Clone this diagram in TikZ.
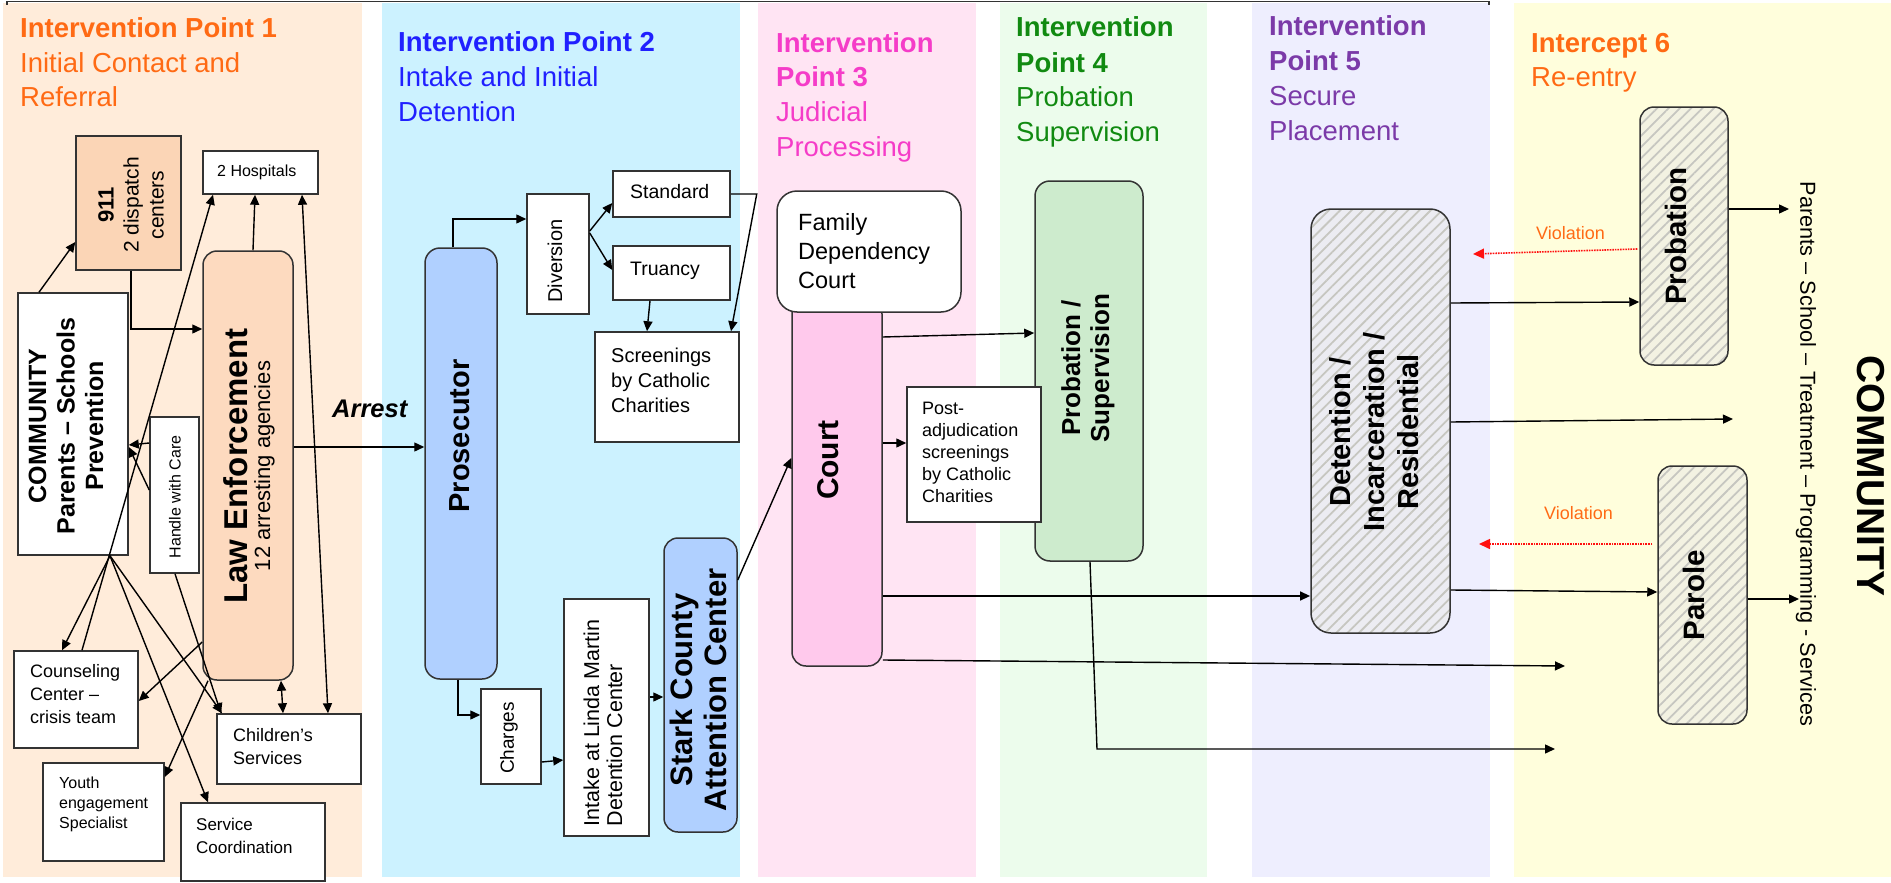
\documentclass[tikz,border=0pt]{standalone}
\usepackage{fontspec}
\usepackage{graphicx}
\setmainfont{Liberation Sans}
\usetikzlibrary{arrows.meta,fit,patterns.meta}
\definecolor{bgA}{HTML}{FFECDA}
\definecolor{bgB}{HTML}{CCF2FF}
\definecolor{bgC}{HTML}{FFE4F3}
\definecolor{bgD}{HTML}{ECFCEC}
\definecolor{bgE}{HTML}{EEEEFE}
\definecolor{bgF}{HTML}{FFFEDC}
\definecolor{hOr}{HTML}{FF6A14}
\definecolor{hBl}{HTML}{2020FF}
\definecolor{hPk}{HTML}{F53CC8}
\definecolor{hGr}{HTML}{118A11}
\definecolor{hPu}{HTML}{7B3AA8}
\definecolor{bdr}{HTML}{333333}
\definecolor{fPeach}{HTML}{FBD5B6}
\definecolor{fLaw}{HTML}{FDDABF}
\definecolor{fBlue}{HTML}{B0D0FF}
\definecolor{fPink}{HTML}{FFC9EC}
\definecolor{fGreen}{HTML}{CDEBCD}
\definecolor{hatchE}{HTML}{ECECF2}
\definecolor{hatchF}{HTML}{F3F2E2}
\definecolor{stripe}{HTML}{C6C6C0}
\definecolor{violRed}{HTML}{FF1010}
\newcommand\fsz[2]{\fontsize{#1}{#2}\selectfont}
\begin{document}
\begin{tikzpicture}[x=1pt,y=-1pt,
  bx/.style={draw=bdr, line width=1.5pt, inner sep=0pt, fill=white},
  rbx/.style={bx, rounded corners=#1},
  hatchbox/.style={draw=bdr, line width=1.5pt, inner sep=0pt, pattern={Lines[angle=45,distance=8pt,line width=1.8pt]}, pattern color=stripe},
  tx/.style={inner sep=0pt, text=black},
  rt/.style={tx, rotate=90, align=center},
  lt/.style={tx, align=left, anchor=north west},
  hd/.style={anchor=base west, inner sep=0pt, font=\fsz{27.5}{33}},
  hdb/.style={anchor=base west, inner sep=0pt, font=\fsz{27.5}{33}\bfseries},
  ln/.style={draw=black, line width=1.4pt},
  arr/.style={ln, -{Triangle[length=10pt,width=9pt]}},
  darr/.style={ln, {Triangle[length=10pt,width=9pt]}-{Triangle[length=10pt,width=9pt]}},
  viol/.style={draw=violRed, line width=1.6pt, densely dotted, -{Triangle[length=11pt,width=10pt]}},
  vlab/.style={anchor=base west, inner sep=0pt, text=hOr, font=\fsz{18}{20}},
]
\useasboundingbox (0,0) rectangle (1891,883);
% column backgrounds
\fill[bgA] (3,3) rectangle (362,877);
\fill[bgB] (382,3) rectangle (740,877);
\fill[bgC] (758,3) rectangle (976,877);
\fill[bgD] (1000,3) rectangle (1207,877);
\fill[bgE] (1252,3) rectangle (1490,877);
\fill[bgF] (1514,3) rectangle (1891,877);
\draw[line width=1.3pt, bdr] (7,5) -- (7,1.5) -- (1489,1.5) -- (1489,5);

% headings
\node[hdb, text=hOr] (h1a) at (20,37.7) {Intervention Point 1};
\node[hd, text=hOr] (h1b) at (20,72.7) {Initial Contact and};
\node[hd, text=hOr] (h1c) at (20,106.7) {Referral};
\node[hdb, text=hBl] (h2a) at (398,51.7) {Intervention Point 2};
\node[hd, text=hBl] (h2b) at (398,86.5) {Intake and Initial};
\node[hd, text=hBl] (h2c) at (398,121.7) {Detention};
\node[hdb, text=hPk] (h3a) at (776,52.7) {Intervention};
\node[hdb, text=hPk] (h3b) at (776,86.7) {Point 3};
\node[hd, text=hPk] (h3c) at (776,121.7) {Judicial};
\node[hd, text=hPk] (h3d) at (776,156) {Processing};
\node[hdb, text=hGr] (h4a) at (1016,36.7) {Intervention};
\node[hdb, text=hGr] (h4b) at (1016,72.7) {Point 4};
\node[hd, text=hGr] (h4c) at (1016,106.7) {Probation};
\node[hd, text=hGr] (h4d) at (1016,141.7) {Supervision};
\node[hdb, text=hPu] (h5a) at (1269,35.7) {Intervention};
\node[hdb, text=hPu] (h5b) at (1269,70.7) {Point 5};
\node[hd, text=hPu] (h5c) at (1269,105) {Secure};
\node[hd, text=hPu] (h5d) at (1269,140) {Placement};
\node[hdb, text=hOr] (h6a) at (1531,52.3) {Intercept 6};
\node[hd, text=hOr] (h6b) at (1531,86) {Re-entry};

% column 1
\node[bx, fill=fPeach, fit={(76,136) (181,270)}] (n911) {};
\node[rt, font=\fsz{21}{25}] (n911t) at (131,205) {{\fsz{22}{25}\bfseries 911}\\2 dispatch\\centers};
\node[bx, fit={(203,151) (318,194)}] (hosp) {};
\node[tx, anchor=base west, font=\fsz{16}{19}] (hospt) at (217,176) {2 Hospitals};
\node[rbx=14pt, fill=fLaw, fit={(203,251) (293,680)}] (law) {};
\node[rt, font=\fsz{22}{23}] (lawt) at (249,466) {{\fsz{33}{36}\bfseries Law Enforcement}\\12 arresting agencies};
\node[bx, fit={(18,293) (128,555)}] (comm) {};
\node[rt, font=\fsz{25}{28.5}\bfseries] (commt) at (66,426) {COMMUNITY\\Parents – Schools\\Prevention};
\node[bx, fit={(150,417) (199,573)}] (hwc) {};
\node[rt, font=\fsz{16}{19}] (hwct) at (175,497) {Handle with Care};
\node[bx, fit={(14,651) (138,748)}] (couns) {};
\node[lt, font=\fsz{18}{23}] (counst) at (30,664) {Counseling\\Center –\\crisis team};
\node[bx, fit={(43,763) (164,861)}] (youth) {};
\node[lt, font=\fsz{16}{20}] (youtht) at (59,776.5) {Youth\\engagement\\Specialist};
\node[bx, fit={(217,714) (361,784)}] (child) {};
\node[lt, font=\fsz{18}{23}] (childt) at (233,728) {Children’s\\Services};
\node[bx, fit={(181,803) (325,881)}] (svc) {};
\node[lt, font=\fsz{17}{23}] (svct) at (196,818) {Service\\Coordination};
\node[tx, anchor=base west, font=\fsz{25.5}{28}\bfseries\itshape] (arrest) at (332,417) {Arrest};

% column 2
\node[rbx=15pt, fill=fBlue, fit={(425,248) (497,679)}] (pros) {};
\node[rt, font=\fsz{29}{32}\bfseries] (prost) at (460,436) {Prosecutor};
\node[bx, fit={(527,194) (589,314)}] (div) {};
\node[rt, font=\fsz{20}{23}] (divt) at (555,261) {Diversion};
\node[bx, fit={(613,171) (730,217)}] (std) {};
\node[tx, anchor=base west, font=\fsz{19.5}{23}] (stdt) at (630,198) {Standard};
\node[bx, fit={(613,246) (730,300)}] (tru) {};
\node[tx, anchor=base west, font=\fsz{19.5}{23}] (trut) at (630,275) {Truancy};
\node[bx, fit={(595,332) (739,442)}] (scr) {};
\node[lt, font=\fsz{20}{25}] (scrt) at (611,348) {Screenings\\by Catholic\\Charities};
\node[bx, fit={(481,689) (541,784)}] (chg) {};
\node[rt, font=\fsz{19}{22}] (chgt) at (509,738) {Charges};
\node[bx, fit={(564,599) (649,836)}] (intake) {};
\node[tx, rotate=90, align=left, font=\fsz{21.5}{23}] (intaket) at (603,723) {Intake at Linda Martin\\Detention Center};
\node[rbx=14pt, fill=fBlue, fit={(664,538) (737,832)}] (stark) {};
\node[rt, font=\fsz{31}{34}\bfseries] (starkt) at (698,690) {Stark County\\Attention Center};

% column 3 and 4
\node[rbx=14pt, fill=fPink, fit={(792,300) (882,666)}] (court) {};
\node[rbx=20pt, fit={(777,191) (961,312)}] (fam) {};
\node[lt, font=\fsz{23.5}{29}] (famt) at (798,213) {Family\\Dependency\\Court};
\node[rt, font=\fsz{30}{33}\bfseries] (courtt) at (828,460) {Court};
\node[rbx=15pt, fill=fGreen, fit={(1035,181) (1143,561)}] (probsup) {};
\node[rt, font=\fsz{26}{29}\bfseries] (probsupt) at (1088,368) {Probation /\\Supervision};
\node[bx, fit={(907,387) (1041,522)}] (post) {};
\node[lt, font=\fsz{18}{22}] (postt) at (922,402) {Post-\\adjudication\\screenings\\by Catholic\\Charities};

% column 5 and 6
\node[hatchbox, preaction={fill=hatchE}, rounded corners=20pt, fit={(1311,209) (1450,633)}] (det) {};
\node[rt, font=\fsz{29}{34}\bfseries] (dett) at (1374,432) {Detention /\\Incarceration /\\Residential};
\node[hatchbox, preaction={fill=hatchF}, rounded corners=14pt, fit={(1640,107) (1728,365)}] (probb) {};
\node[rt, font=\fsz{29.5}{33}\bfseries] (probbt) at (1676,236) {Probation};
\node[hatchbox, preaction={fill=hatchF}, rounded corners=14pt, fit={(1658,466) (1747,724)}] (parole) {};
\node[rt, font=\fsz{29.5}{33}\bfseries] (parolet) at (1694,595) {Parole};
\node[vlab] (v1t) at (1536,239) {Violation};
\node[vlab] (v2t) at (1544,519) {Violation};
\node[tx, rotate=-90, font=\fsz{21.7}{24}] (commr) at (1806,454) {Parents – School – Treatment – Programming - Services};
\node[tx, rotate=-90, font=\fsz{39}{42}\bfseries] (commR) at (1871,476) {COMMUNITY};

% free ends
\coordinate (e1) at (1565,666);
\coordinate (e2) at (1555,749);
\coordinate (e3) at (1733,419);
\coordinate (e4) at (1789,209);
\coordinate (e5) at (1799,599);
\coordinate (v1) at (1473,254);
\coordinate (v2) at (1479,544);

% connectors column 1
\draw[arr] (39,0 |- comm.north) -- (n911.west |- 0,242);
\draw[arr] (131,0 |- n911.south) |- (law.west |- 0,329);
\draw[arr] (82,0 |- couns.north) -- (213,0 |- hosp.south);
\draw[arr] (253,0 |- law.north) -- (255,0 |- hosp.south);
\draw[darr] (302,0 |- hosp.south) -- (328,0 |- child.north);
\draw[darr] (281,0 |- law.south) -- (283,0 |- child.north);
\draw[arr] (hwc.west |- 0,443) -- (comm.east |- 0,445);
\draw[arr] (hwc.west |- 0,490) -- (comm.east |- 0,447);
\draw[arr] (110,0 |- comm.south) -- (62,0 |- couns.north);
\draw[arr] (110,0 |- comm.south) -- (222,0 |- child.north);
\draw[arr] (110,0 |- comm.south) -- (208,0 |- svc.north);
\draw[arr] (175,0 |- hwc.south) -- (221,0 |- child.north);
\draw[arr] (law.west |- 0,642) -- (couns.east |- 0,701);
\draw[arr] (208,0 |- law.south) -- (youth.east |- 0,777);
\draw[arr] (law.east |- 0,447) -- (pros.west |- 0,447);

% connectors column 2
\draw[arr] (453,0 |- pros.north) |- (div.west |- 0,219);
\draw[arr] (div.east |- 0,231) -- (std.west |- 0,203);
\draw[arr] (div.east |- 0,233) -- (tru.west |- 0,270);
\draw[arr] (650,0 |- tru.south) -- (647,0 |- scr.north);
\draw[arr] (std.east) -- ++(26,0) -- (731,0 |- scr.north);
\draw[arr] (458,0 |- pros.south) |- (chg.west |- 0,715);
\draw[arr] (chg.east |- 0,762) -- (intake.west |- 0,760);
\draw[arr] (intake.east |- 0,697) -- (stark.west |- 0,697);
\draw[arr] (stark.east |- 0,580) -- (court.west |- 0,458);

% connectors column 3/4
\draw[arr] (court.east |- 0,337) -- (probsup.west |- 0,333);
\draw[arr] (court.east |- 0,443) -- (post.west |- 0,443);
\draw[arr] (court.east |- 0,596) -- (det.west |- 0,596);
\draw[arr] (court.east |- 0,660) -- (e1);
\draw[arr] (1090,0 |- probsup.south) -- (1097,0 |- e2) -- (e2);

% connectors column 5/6
\draw[arr] (det.east |- 0,303) -- (probb.west |- 0,302);
\draw[arr] (det.east |- 0,422) -- (e3);
\draw[arr] (det.east |- 0,590) -- (parole.west |- 0,592);
\draw[viol] ([xshift=-2pt]probb.west |- 0,249) -- (v1);
\draw[viol] ([xshift=-5pt]parole.west |- 0,544) -- (v2);
\draw[arr] (probb.east |- 0,209) -- (e4);
\draw[arr] (parole.east |- 0,599) -- (e5);
\end{tikzpicture}
\end{document}
